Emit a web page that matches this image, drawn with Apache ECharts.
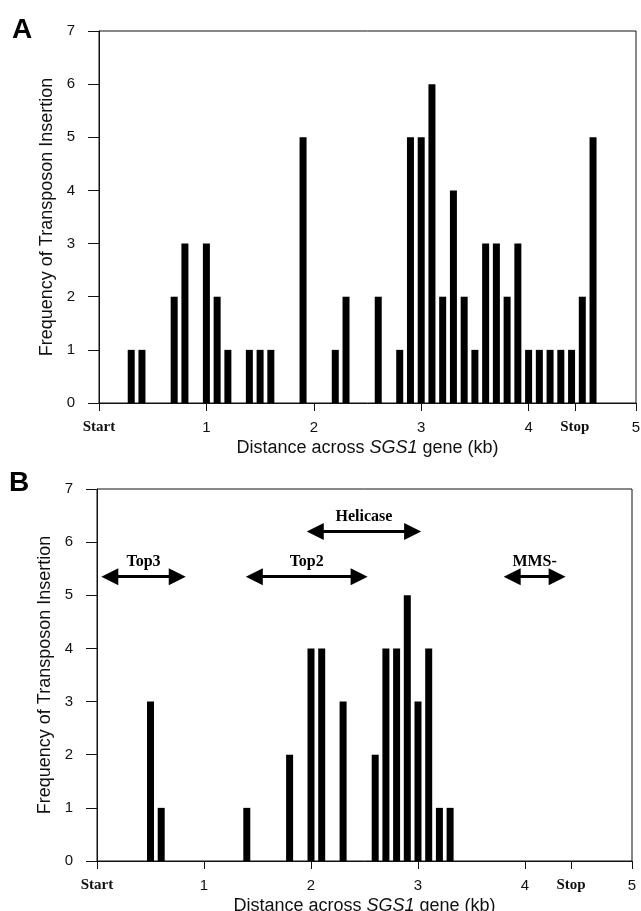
<!DOCTYPE html>
<html>
<head>
<meta charset="utf-8">
<script src="https://cdn.jsdelivr.net/npm/echarts@6/dist/echarts.min.js"></script>
<style>
  html, body { margin: 0; padding: 0; background: #fff; }
  #main { width: 641px; height: 911px; }
</style>
</head>
<body>
<div id="main"></div>
<script>
// panel A: all insertions
const posA = [0.3, 0.4, 0.7, 0.8, 1.0, 1.1, 1.2, 1.4, 1.5, 1.6, 1.9, 2.2, 2.3, 2.6, 2.8, 2.9, 3.0,
  3.1, 3.2, 3.3, 3.4, 3.5, 3.6, 3.7, 3.8, 3.9, 4.0, 4.1, 4.2, 4.3, 4.4, 4.5, 4.6];
const countA = [1, 1, 2, 3, 3, 2, 1, 1, 1, 1, 5, 1, 2, 2, 1, 5, 5,
  6, 2, 4, 2, 1, 3, 3, 2, 3, 1, 1, 1, 1, 1, 2, 5];

// panel B
const posB = [0.5, 0.6, 1.4, 1.8, 2.0, 2.1, 2.3, 2.6, 2.7, 2.8, 2.9, 3.0, 3.1, 3.2, 3.3];
const countB = [3, 1, 1, 2, 4, 4, 3, 2, 4, 4, 5, 3, 4, 1, 1];

// protein domains drawn as double arrows in panel B
const domainNames = ['Top3', 'Top2', 'Helicase', 'MMS-'];
const domainFrom = [0.12, 1.47, 2.04, 3.88];
const domainTo = [0.75, 2.45, 2.95, 4.30];
const domainLevel = [5.35, 5.35, 6.2, 5.35];

// x tick labels
const stopKb = 4.43;
const xTicks = [0, 1, 2, 3, 4, stopKb, 5];
const xTickText = ['Start', '1', '2', '3', '4', 'Stop', '5'];

const sans = 'Liberation Sans';
const serif = 'Liberation Serif';

const chart = echarts.init(document.getElementById('main'));

function xAxisFor(idx) {
  return {
    gridIndex: idx,
    type: 'value',
    min: 0,
    max: 5,
    name: '{n|Distance across }{i|SGS1}{n| gene (kb)}',
    nameLocation: 'middle',
    nameGap: 36,
    nameTextStyle: {
      rich: {
        n: { fontFamily: sans, fontSize: 18, color: '#111' },
        i: { fontFamily: sans, fontSize: 18, fontStyle: 'italic', color: '#111' }
      }
    },
    axisLine: { show: true, lineStyle: { color: '#111', width: 1 } },
    axisTick: { show: true, inside: false, length: 8, customValues: xTicks, lineStyle: { color: '#111' } },
    axisLabel: {
      customValues: xTicks,
      margin: 17,
      fontFamily: sans,
      fontSize: 15,
      color: '#111',
      formatter: (v) => {
        const i = xTicks.findIndex(t => Math.abs(t - v) < 1e-6);
        const t = i >= 0 ? xTickText[i] : '';
        return (t === 'Start' || t === 'Stop') ? '{b|' + t + '}' : t;
      },
      rich: {
        b: { fontFamily: serif, fontWeight: 'bold', fontSize: 15, color: '#111', padding: [0, 0, 6, 0] }
      }
    },
    splitLine: { show: false }
  };
}

function yAxisFor(idx) {
  return {
    gridIndex: idx,
    type: 'value',
    min: 0,
    max: 7,
    interval: 1,
    name: 'Frequency of Transposon Insertion',
    nameLocation: 'middle',
    nameGap: 42,
    nameTextStyle: { fontFamily: sans, fontSize: 18, color: '#111' },
    axisLine: { show: true, lineStyle: { color: '#111', width: 1 } },
    axisTick: { show: true, inside: false, length: 11, lineStyle: { color: '#111' } },
    axisLabel: { margin: 24, fontFamily: sans, fontSize: 15, color: '#111' },
    splitLine: { show: false }
  };
}

const option = {
  backgroundColor: '#fff',
  animation: false,
  grid: [
    { left: 99, right: 5, top: 31, bottom: 508, outerBoundsMode: 'none', show: true, borderColor: '#111', borderWidth: 1 },
    { left: 97, right: 9, top: 489, bottom: 50, outerBoundsMode: 'none', show: true, borderColor: '#111', borderWidth: 1 }
  ],
  xAxis: [xAxisFor(0), xAxisFor(1)],
  yAxis: [yAxisFor(0), yAxisFor(1)],
  graphic: [
    { type: 'text', left: 12, top: 16, style: { text: 'A', fontFamily: sans, fontWeight: 'bold', fontSize: 28, fill: '#000' } },
    { type: 'text', left: 9, top: 469, style: { text: 'B', fontFamily: sans, fontWeight: 'bold', fontSize: 28, fill: '#000' } }
  ],
  series: [
    {
      type: 'bar',
      xAxisIndex: 0,
      yAxisIndex: 0,
      barWidth: 7,
      itemStyle: { color: '#000' },
      data: posA.map((x, i) => [x, countA[i]])
    },
    {
      type: 'bar',
      xAxisIndex: 1,
      yAxisIndex: 1,
      barWidth: 7,
      itemStyle: { color: '#000' },
      data: posB.map((x, i) => [x, countB[i]])
    },
    {
      type: 'lines',
      coordinateSystem: 'cartesian2d',
      xAxisIndex: 1,
      yAxisIndex: 1,
      symbol: ['triangle', 'triangle'],
      symbolSize: 17,
      lineStyle: { color: '#000', width: 3, opacity: 1, curveness: 0 },
      label: {
        show: true,
        position: 'insideMiddleTop',
        distance: 7,
        fontFamily: serif,
        fontWeight: 'bold',
        fontSize: 16,
        color: '#000',
        formatter: (p) => p.name
      },
      data: domainNames.map((n, i) => ({
        name: n,
        coords: [[domainFrom[i], domainLevel[i]], [domainTo[i], domainLevel[i]]]
      }))
    }
  ]
};

chart.setOption(option);
</script>
</body>
</html>
